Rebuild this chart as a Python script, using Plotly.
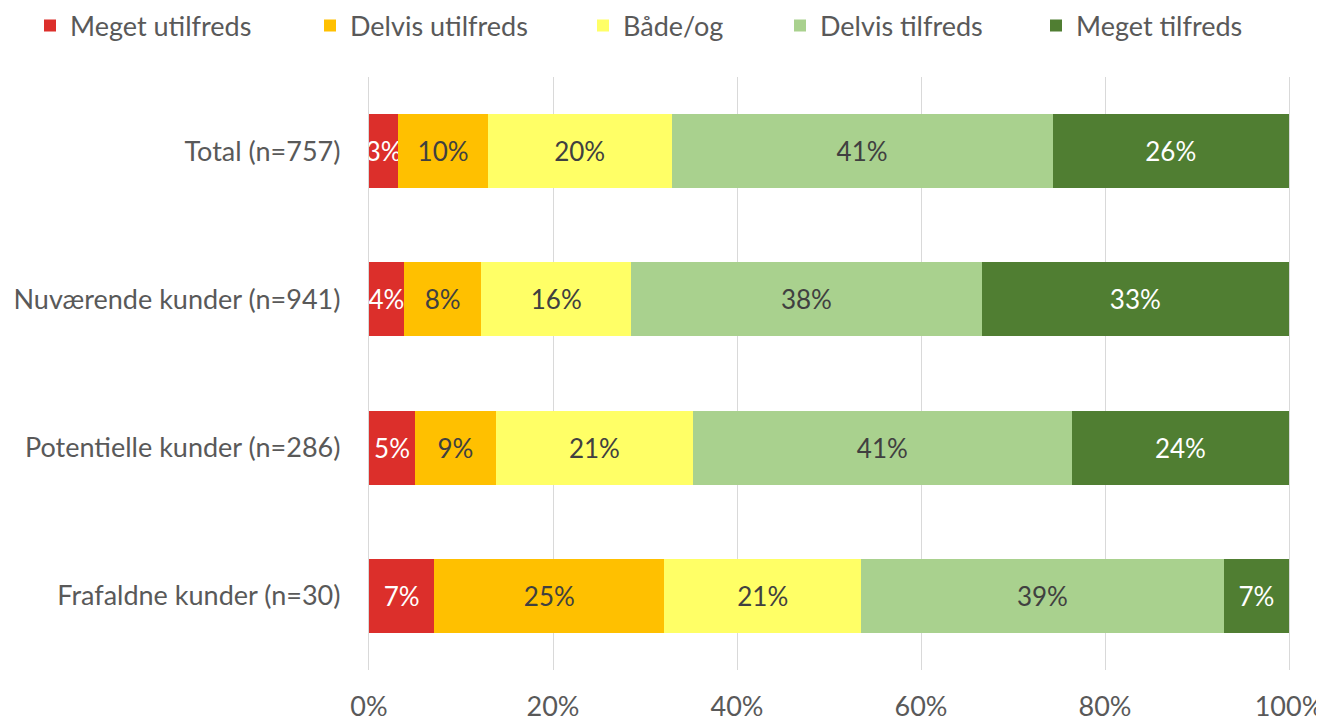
import plotly.graph_objects as go

categories = ["Total (n=757)", "Nuværende kunder (n=941)", "Potentielle kunder (n=286)", "Frafaldne kunder (n=30)"]
series_names = ["Meget utilfreds", "Delvis utilfreds", "Både/og", "Delvis tilfreds", "Meget tilfreds"]
meget_utilfreds = [3.2, 3.8, 5.0, 7.1]
delvis_utilfreds = [9.7, 8.4, 8.8, 25.0]
baade_og = [20.0, 16.3, 21.4, 21.4]
delvis_tilfreds = [41.4, 38.1, 41.2, 39.4]
meget_tilfreds = [25.7, 33.4, 23.6, 7.1]
x_ticks = [0, 20, 40, 60, 80, 100]
x_tick_labels = ["0%", "20%", "40%", "60%", "80%", "100%"]

values = [meget_utilfreds, delvis_utilfreds, baade_og, delvis_tilfreds, meget_tilfreds]
colors = ["#DC2F2B", "#FFC000", "#FFFF66", "#A9D18E", "#507E32"]
text_colors = ["#FFFFFF", "#404040", "#404040", "#404040", "#FFFFFF"]
legend_text_px = [71, 351, 624, 821, 1077]   # target screen x of legend texts

FONT = "Lato"
OFF = 8  # page body margin
W, H = 1324, 720
L, T = 369 - OFF, 77 - OFF
R = W - (1289 - OFF)
B = H - (670 - OFF)
pw = W - L - R
ph = H - T - B

fig = go.Figure()
for i, (name, vals) in enumerate(zip(series_names, values)):
    lg = "legend" if i == 0 else f"legend{i+1}"
    fig.add_trace(go.Bar(
        y=categories, x=vals, name=name, orientation="h",
        marker=dict(color=colors[i], line=dict(width=0)),
        texttemplate="%{x:.0f}%", textposition="inside", textangle=0,
        insidetextanchor="middle", constraintext="none",
        textfont=dict(family=FONT, size=26, color=text_colors[i]),
        legend=lg,
    ))

legend_center_fig = 26 - OFF
layout_legends = {}
for i, px in enumerate(legend_text_px):
    key = "legend" if i == 0 else f"legend{i+1}"
    layout_legends[key] = dict(
        x=(px - OFF - 1 - 40 - L) / pw, xanchor="left",
        y=(H - B - legend_center_fig) / ph, yanchor="middle",
        orientation="h", bgcolor="rgba(0,0,0,0)",
        font=dict(family=FONT, size=27, color="#595959"),
        borderwidth=0, visible=True,
    )

fig.update_layout(
    width=W, height=H,
    barmode="stack", bargap=0.5,
    plot_bgcolor="white", paper_bgcolor="white",
    margin=dict(l=L, r=R, t=T, b=B, pad=0, autoexpand=False),
    font=dict(family=FONT, size=27, color="#595959"),
    showlegend=True,
    xaxis=dict(range=[0, 100], tickmode="array", tickvals=x_ticks, ticktext=x_tick_labels,
               showgrid=True, gridcolor="#D9D9D9", gridwidth=1.3,
               zeroline=False, showline=False, ticks="",
               ticklabelstandoff=18,
               tickfont=dict(family=FONT, size=27, color="#595959")),
    yaxis=dict(autorange="reversed", showgrid=False, zeroline=False,
               showline=True, linecolor="#D9D9D9", linewidth=1.3, mirror=True,
               ticks="", ticklabelstandoff=22,
               tickfont=dict(family=FONT, size=27, color="#595959")),
    **layout_legends,
)

fig.write_html("out.html")
